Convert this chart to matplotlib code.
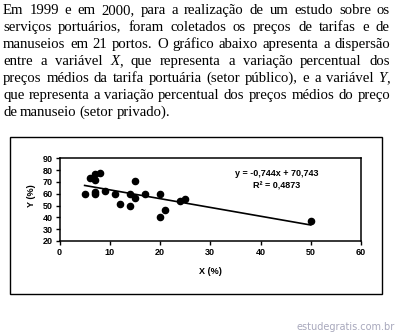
import matplotlib
matplotlib.use('Agg')
import matplotlib.pyplot as plt
from matplotlib.patches import Rectangle
import numpy as np

# dados
x_vals = [5, 6, 7, 8, 7, 7, 7, 9, 11, 12, 14, 14, 15, 15, 17, 20, 20, 21, 24, 25, 50]
y_vals = [60, 73.5, 76.5, 77.5, 72, 61.5, 60, 62.5, 60, 51.5, 60, 49.5, 70.5, 56.5, 60, 60, 40.5, 46.5, 53.5, 55.5, 37]
slope = -0.744
intercept = 70.743
eq_text = 'y = -0,744x + 70,743'
r2_text = 'R² = 0,4873'

paragraph = [
    'Em 1999 e em 2000, para a realização de um estudo sobre os',
    'serviços portuários, foram coletados os preços de tarifas e de',
    'manuseios em 21 portos. O gráfico abaixo apresenta a dispersão',
    'entre a variável *X*, que representa a variação percentual dos',
    'preços médios da tarifa portuária (setor público), e a variável *Y*,',
    'que representa a variação percentual dos preços médios do preço',
    'de manuseio (setor privado).',
]

W, H = 400, 335
fig = plt.figure(figsize=(W / 100, H / 100), dpi=100)
fig.patch.set_facecolor('white')
renderer = fig.canvas.get_renderer()

serif = 'Liberation Serif'
fs = 10.6
x_left, x_right = 3, 390
base0, step = 14, 17


def put_word(word, x, y):
    # word may contain *X* italic pieces
    parts = []
    segs = word.split('*')
    for i, s in enumerate(segs):
        if s:
            parts.append((s, 'italic' if i % 2 == 1 else 'normal'))
    objs = []
    cx = x
    for s, st in parts:
        t = fig.text(cx / W, 1 - y / H, s, fontsize=fs, family=serif, style=st,
                     va='baseline', ha='left')
        w = t.get_window_extent(renderer).width
        objs.append((t, w))
        cx += w
    return objs, cx - x


for i, line in enumerate(paragraph):
    y = base0 + i * step
    words = line.split(' ')
    placed = []
    total = 0
    for w in words:
        objs, wid = put_word(w, 0, y)
        placed.append((objs, wid))
        total += wid
    if i < len(paragraph) - 1:
        gap = (x_right - x_left - total) / (len(words) - 1)
    else:
        gap = 3
    cx = x_left
    for objs, wid in placed:
        ox = cx
        for t, w in objs:
            t.set_x(ox / W)
            ox += w
        cx += wid + gap

# moldura externa
fig.patches.append(Rectangle((10 / W, 1 - 294 / H), 372 / W, 157 / H, transform=fig.transFigure,
                             fill=False, edgecolor='black', linewidth=1.0))

ax = fig.add_axes([59.5 / W, 1 - 241 / H, 301.5 / W, 82.7 / H])
ax.scatter(x_vals, y_vals, s=20, color='black', zorder=3)
xl = np.array([min(x_vals), max(x_vals)])
ax.plot(xl, slope * xl + intercept, color='black', linewidth=1.2)

ax.set_xlim(0, 60)
ax.set_ylim(20, 90)
ax.set_xticks(range(0, 61, 10))
ax.set_yticks(range(20, 91, 10))
for sp in ax.spines.values():
    sp.set_linewidth(1.1)
ax.tick_params(direction='out', length=3, width=1, labelsize=6.5, pad=2)
for lab in ax.get_xticklabels() + ax.get_yticklabels():
    lab.set_family('Liberation Sans')
    lab.set_fontweight('bold')

ax.text(0.72, 0.82, eq_text, transform=ax.transAxes, ha='center', va='center',
        fontsize=6.5, family='Liberation Sans', fontweight='bold')
ax.text(0.72, 0.67, r2_text, transform=ax.transAxes, ha='center', va='center',
        fontsize=6.5, family='Liberation Sans', fontweight='bold')

fig.text(210 / W, 1 - 272 / H, 'X (%)', ha='center', va='center', fontsize=6.5,
         family='Liberation Sans', fontweight='bold')
fig.text(32 / W, 1 - 196 / H, 'Y (%)', ha='center', va='center', rotation=90, fontsize=6.5,
         family='Liberation Sans', fontweight='bold')

fig.text(395 / W, 1 - 327 / H, 'estudegratis.com.br', ha='right', va='center', fontsize=7,
         family='DejaVu Sans', color='#a8a8bc')

fig.savefig('out.png', dpi=100, facecolor='white')
